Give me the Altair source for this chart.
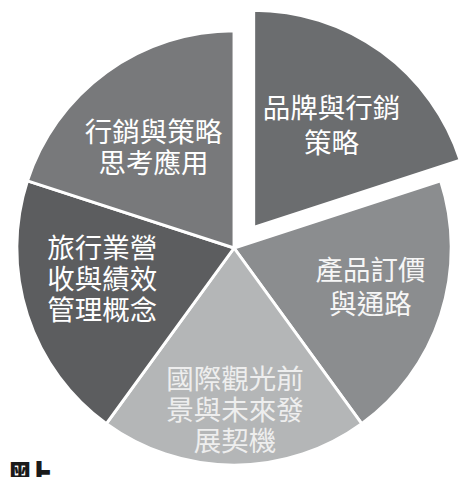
import math
import altair as alt
import pandas as pd

categories = ["品牌與行銷策略", "產品訂價與通路", "國際觀光前景與未來發展契機",
              "旅行業營收與績效管理概念", "行銷與策略思考應用"]
label_lines = ["品牌與行銷\n策略", "產品訂價\n與通路", "國際觀光前\n景與未來發\n展契機",
               "旅行業營\n收與績效\n管理概念", "行銷與策略\n思考應用"]
shares = [1, 1, 1, 1, 1]
exploded = "品牌與行銷策略"
heading_fragment = "重點"

slice_colors = ["#6b6d6f", "#8b8d8f", "#b4b6b7", "#5c5d5f", "#78797b"]
label_colors = ["#ffffff", "#f6f6f6", "#eeeeee", "#ffffff", "#ffffff"]
label_radius = [128, 145, 167, 139, 129]
label_size = [28, 28, 28, 28, 28]
label_lh = [35, 35, 32, 31.5, 32]
label_dx = [4, 1, 1, -2, -6]
label_dy = [2, -3, 0, -9, 4]

df = pd.DataFrame({"category": categories, "label": label_lines,
                   "share": shares, "order": list(range(len(shares)))})
total = sum(shares)

CX, CY, R = 230, 240, 221
EX, EY = 250, 219
FONT = "Noto Sans CJK TC"

theta_scale = alt.Scale(domain=[0, total], range=[0, 2 * math.pi])
color_scale = alt.Scale(domain=categories, range=slice_colors)

base = alt.Chart(df).transform_window(
    end="sum(share)", sort=[alt.SortField("order")], frame=[None, 0]
).transform_calculate(
    start="datum.end - datum.share", mid="datum.end - datum.share / 2"
)

def arc_layer(filt, cx, cy):
    return base.transform_filter(filt).mark_arc(
        radius=R, stroke="white", strokeWidth=3
    ).encode(
        theta=alt.Theta("start:Q", scale=theta_scale, stack=None),
        theta2="end:Q",
        color=alt.Color("category:N", scale=color_scale, legend=None),
        x=alt.value(cx), y=alt.value(cy),
    )

layers = [
    arc_layer(alt.datum.category != exploded, CX, CY),
    arc_layer(alt.datum.category == exploded, EX, EY),
]

for i, cat in enumerate(categories):
    cx, cy = (EX, EY) if cat == exploded else (CX, CY)
    n_lines = label_lines[i].count("\n") + 1
    layers.append(
        base.transform_filter(alt.datum.category == cat).mark_text(
            radius=label_radius[i], font=FONT, fontSize=label_size[i],
            lineHeight=label_lh[i], lineBreak="\n", align="center",
            baseline="middle", color=label_colors[i],
            dx=label_dx[i],
            dy=label_dy[i] - (n_lines - 1) * label_lh[i] / 2,
        ).encode(
            theta=alt.Theta("mid:Q", scale=theta_scale, stack=None),
            text="label:N",
            x=alt.value(cx), y=alt.value(cy),
        )
    )

heading = alt.Chart(pd.DataFrame({"t": [heading_fragment]})).mark_text(
    font=FONT, fontSize=44, fontWeight="bold", align="right",
    baseline="top", color="#1a1a1a",
).encode(text="t:N", x=alt.value(44), y=alt.value(459))
layers.append(heading)

chart = alt.layer(*layers).properties(
    width=464, height=480,
    autosize=alt.AutoSizeParams(type="none"), padding=0,
).configure_view(stroke=None)

chart.save("out.html", embed_options={"renderer": "svg", "actions": False})
